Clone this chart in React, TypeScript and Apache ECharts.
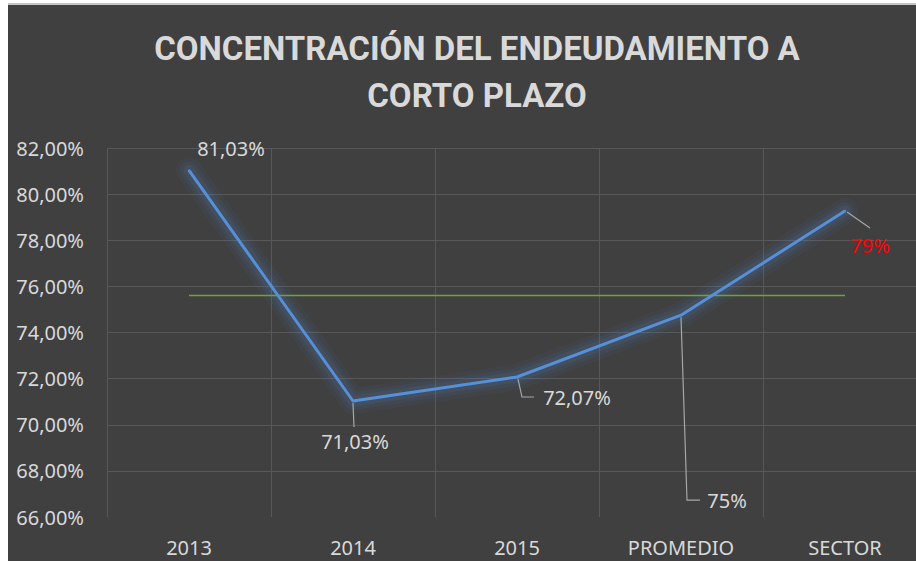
import React, { useEffect, useRef } from 'react';
import * as echarts from 'echarts';

const categories = ['2013', '2014', '2015', 'PROMEDIO', 'SECTOR'];
const concentration = [81.03, 71.03, 72.07, 74.75, 79.27];
const labelTexts = ['81,03%', '71,03%', '72,07%', '75%', '79%'];
const referenceLine = [75.6, 75.6, 75.6, 75.6, 75.6];
const yMin = 66;
const yMax = 82;
const yStep = 2;
const titleLines = ['CONCENTRACIÓN DEL ENDEUDAMIENTO A', 'CORTO PLAZO'];

// label placement relative to each point (styling, not data)
const labelOffsets = [
  { dx: 42, dy: -22, line: null as null | number[][] },
  { dx: 2, dy: 41, line: [[0, 2], [1, 26]] },
  { dx: 60, dy: 20, line: [[1, 2], [5, 20], [17, 20]] },
  { dx: 46, dy: 185, line: [[0, 2], [6, 185], [19, 185]] },
  { dx: 25, dy: 35, line: [[2, 1], [25, 17]] },
];

// glow layers under the main line: [width, alpha]
const glowLayers = [[26, 0.05], [18, 0.07], [11, 0.1]];

export default function App() {
  const ref = useRef<HTMLDivElement>(null);
  useEffect(() => {
    if (!ref.current) return;
    const chart = echarts.init(ref.current, null, { renderer: 'svg' });
    const textColor = '#d9d9d9';
    const gridColor = '#585858';
    const blue = '#5590d8';
    const yLineColors: string[] = [];
    for (let v = yMin; v <= yMax; v += yStep) yLineColors.push(v === yMin ? 'rgba(0,0,0,0)' : gridColor);
    chart.setOption({
      animation: false,
      backgroundColor: '#404040',
      graphic: [
        {
          type: 'text', x: 469, y: 43,
          style: { text: titleLines[0], align: 'center', verticalAlign: 'middle', fill: textColor, font: 'bold 33px Roboto' },
        },
        {
          type: 'text', x: 469, y: 90,
          style: { text: titleLines[1], align: 'center', verticalAlign: 'middle', fill: textColor, font: 'bold 33px Roboto' },
        },
      ],
      grid: { left: 99, top: 143, width: 820, height: 369, containLabel: false },
      xAxis: {
        type: 'category',
        data: categories,
        boundaryGap: true,
        axisLine: { show: false },
        axisTick: { show: false },
        axisLabel: { color: textColor, fontSize: 20, fontFamily: 'Noto Sans', margin: 20 },
        splitLine: { show: true, lineStyle: { color: gridColor, width: 1 } },
      },
      yAxis: {
        type: 'value',
        min: yMin,
        max: yMax,
        interval: yStep,
        axisLine: { show: false },
        axisTick: { show: false },
        axisLabel: {
          color: textColor, fontSize: 20, fontFamily: 'Noto Sans', margin: 23,
          formatter: (v: number) => v.toFixed(2).replace('.', ',') + '%',
        },
        splitLine: { show: true, lineStyle: { color: yLineColors, width: 1 } },
      },
      series: [
        {
          type: 'line',
          data: referenceLine,
          symbol: 'none',
          lineStyle: { color: '#6aa535', width: 1.5 },
          silent: true,
          z: 2,
        },
        ...glowLayers.map(([w, a]) => ({
          type: 'line',
          data: concentration,
          symbol: 'none',
          lineStyle: { color: `rgba(85,144,216,${a})`, width: w, cap: 'round', join: 'round' },
          silent: true,
          z: 1,
        })),
        {
          type: 'custom',
          data: concentration.map((v, i) => [i, v]),
          silent: true,
          z: 4,
          renderItem: (params: any, api: any) => {
            const o = labelOffsets[params.dataIndex];
            if (!o.line) return null;
            const [cx, cy] = api.coord([api.value(0), api.value(1)]);
            return {
              type: 'polyline',
              shape: { points: o.line.map(([a, b]) => [cx + a, cy + b]) },
              style: { stroke: '#a6a6a6', fill: 'none', lineWidth: 1.2 },
            };
          },
        },
        {
          type: 'line',
          data: concentration.map((v, i) => ({
            value: v,
            label: i === 4 ? { color: '#ff0000' } : undefined,
          })),
          symbol: 'circle',
          symbolSize: 2,
          showSymbol: true,
          itemStyle: { color: blue },
          lineStyle: { color: blue, width: 3, join: 'round' },
          z: 3,
          label: {
            show: true,
            color: textColor,
            fontSize: 20,
            fontFamily: 'Noto Sans',
            formatter: (p: any) => labelTexts[p.dataIndex],
          },
          labelLine: { show: false },
          labelLayout: (p: any) => {
            const o = labelOffsets[p.dataIndex];
            const cx = p.rect.x + p.rect.width / 2;
            const cy = p.rect.y + p.rect.height / 2;
            return { x: cx + o.dx, y: cy + o.dy, align: 'center', verticalAlign: 'middle' };
          },
        },
      ],
    });
    return () => chart.dispose();
  }, []);
  return (
    <div style={{ position: 'absolute', left: 8, top: 3, width: 908, height: 558, overflow: 'hidden', borderTop: '2px solid #c4c4c4', boxSizing: 'border-box' }}>
      <div ref={ref} style={{ width: 930, height: 556 }} />
    </div>
  );
}
